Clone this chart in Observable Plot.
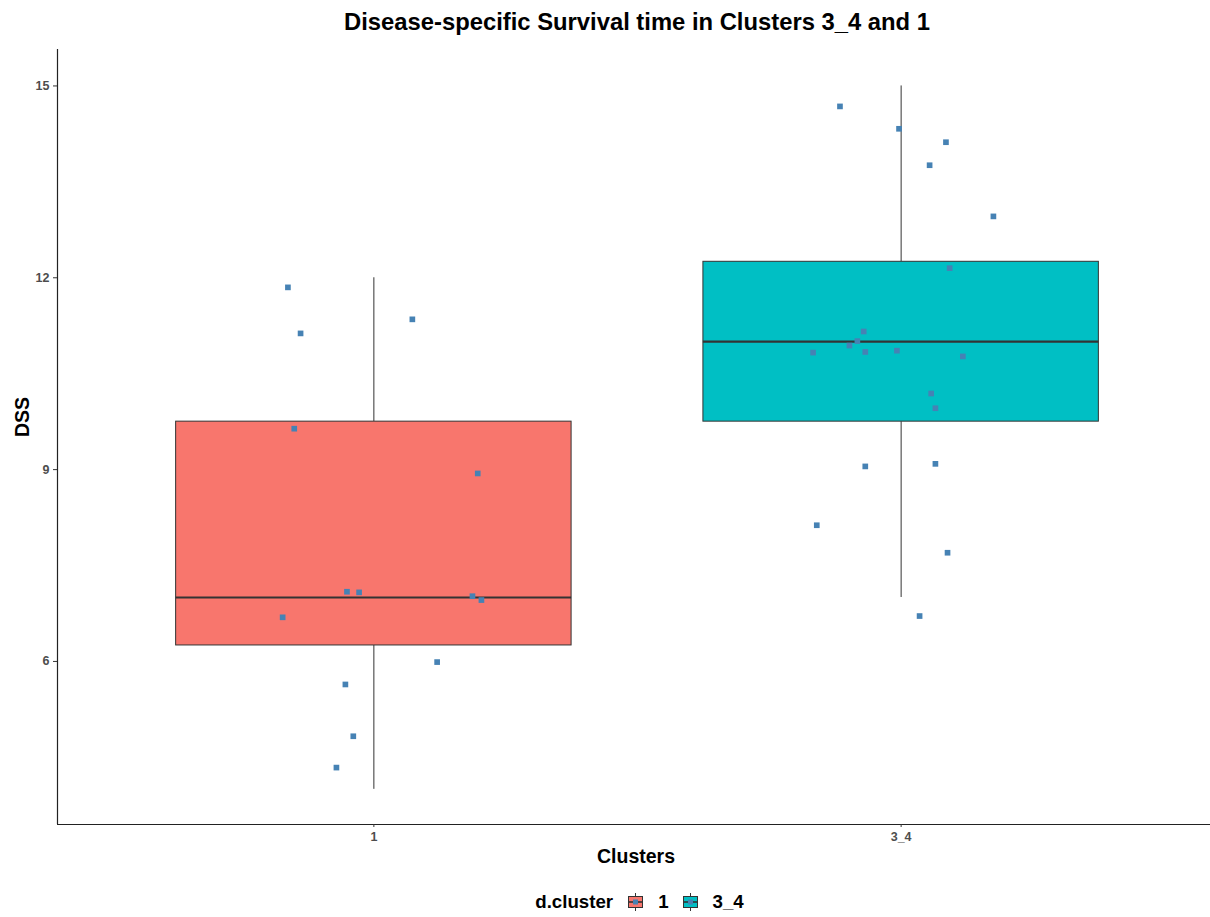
<!DOCTYPE html>
<html><head><meta charset="utf-8">
<script src="https://cdn.jsdelivr.net/npm/d3@7"></script>
<script src="https://cdn.jsdelivr.net/npm/@observablehq/plot@0.6"></script>
<style>
html,body{margin:0;padding:0;background:#fff;}
body{width:1210px;height:917px;overflow:hidden;font-family:"Liberation Sans",Arial,sans-serif;}
#title{height:40px;box-sizing:border-box;padding-left:57px;width:1217px;text-align:center;font-weight:bold;font-size:23.8px;line-height:24px;padding-top:10px;color:#000;white-space:nowrap;}
#chart{height:840px;}
#legend{height:37px;width:1217px;padding-left:62px;padding-top:6px;box-sizing:border-box;display:flex;justify-content:center;align-items:center;font-weight:bold;font-size:18.7px;color:#000;}
#legend .lt{margin-right:15px;}
#legend .lab{margin-left:15px;margin-right:14px;}
#legend .lab:last-child{margin-right:0;}
#legend svg{display:block;}
</style></head><body>
<div id="title">Disease-specific Survival time in Clusters 3_4 and 1</div>
<div id="chart"></div>
<div id="legend"></div>
<script>
// Categories and box statistics
const categories = ["1", "3_4"];
const fills = ["#F8766D", "#00BFC4"];
const q1 = [6.25, 9.75];
const medians = [7.0, 11.0];
const q3 = [9.75, 12.25];
const whiskerLow = [4.0, 7.0];
const whiskerHigh = [12.0, 15.0];
const yTicks = [6, 9, 12, 15];

// Jittered points (x offset from category centre, jittered value)
const cluster1Offsets = [-0.163, -0.139, 0.073, -0.151, 0.197, -0.051, -0.028, 0.187, 0.204, -0.173, 0.120, -0.054, -0.039, -0.071];
const cluster1Values  = [11.85, 11.13, 11.35, 9.64, 8.94, 7.09, 7.08, 7.02, 6.96, 6.69, 5.99, 5.64, 4.83, 4.34];
const cluster34Offsets = [-0.116, -0.004, 0.085, 0.054, 0.175, 0.092, -0.071, -0.083, -0.098, -0.167, -0.068, -0.008, 0.117, 0.057, 0.065, -0.068, 0.065, -0.160, 0.088, 0.035];
const cluster34Values  = [14.68, 14.33, 14.12, 13.76, 12.96, 12.15, 11.16, 11.01, 10.94, 10.83, 10.84, 10.86, 10.77, 10.19, 9.96, 9.05, 9.09, 8.13, 7.70, 6.71];

const boxes = categories.map((c, i) => ({
  cat: c, pos: i + 1, q1: q1[i], med: medians[i], q3: q3[i], lo: whiskerLow[i], hi: whiskerHigh[i], fill: fills[i]
}));
const points = [
  ...cluster1Offsets.map((o, j) => ({x: 1 + o, y: cluster1Values[j]})),
  ...cluster34Offsets.map((o, j) => ({x: 2 + o, y: cluster34Values[j]}))
];
const half = 0.375;
const yMin = 3.45, yMax = 15.57;
const xMin = 0.4, xMax = 2.6;

const plot = Plot.plot({
  width: 1210,
  height: 840,
  marginTop: 9,
  marginBottom: 56,
  marginLeft: 57,
  marginRight: 0,
  style: {fontFamily: '"Liberation Sans", Arial, sans-serif', background: "#fff", overflow: "visible"},
  x: {domain: [xMin, xMax], range: [57, 1217]},
  y: {domain: [yMin, yMax]},
  marks: [
    Plot.ruleX(boxes, {x: "pos", y1: "q3", y2: "hi", stroke: "#333", strokeWidth: 1}),
    Plot.ruleX(boxes, {x: "pos", y1: "lo", y2: "q1", stroke: "#333", strokeWidth: 1}),
    Plot.rect(boxes, {x1: d => d.pos - half, x2: d => d.pos + half, y1: "q1", y2: "q3", fill: "fill", stroke: "#333", strokeWidth: 1}),
    Plot.ruleY(boxes, {y: "med", x1: d => d.pos - half, x2: d => d.pos + half, stroke: "#333", strokeWidth: 2.2}),
    Plot.dot(points, {x: "x", y: "y", symbol: "square", r: 3.2, fill: "#4682B4", stroke: "none"}),
    Plot.ruleY([yMin], {stroke: "#222", strokeWidth: 1.2}),
    Plot.ruleX([xMin], {stroke: "#222", strokeWidth: 1.2}),
    Plot.axisX({ticks: [1, 2], tickFormat: v => categories[v - 1], tickSize: 3, tickPadding: 5, fontSize: 12.5, fontWeight: "bold", fill: "#4D4D4D", stroke: "#333", label: null}),
    Plot.axisY({ticks: yTicks, tickSize: 4, tickPadding: 4, fontSize: 12.5, fontWeight: "bold", fill: "#4D4D4D", stroke: "#333", label: null}),
    Plot.text(["Clusters"], {frameAnchor: "bottom", dx: 2, dy: 32, text: d => d, fontSize: 19.5, fontWeight: "bold", fill: "#000", lineAnchor: "middle"}),
    Plot.text(["DSS"], {frameAnchor: "left", dx: -35, text: d => d, rotate: -90, fontSize: 19.5, fontWeight: "bold", fill: "#000", lineAnchor: "middle"})
  ]
});
document.getElementById("chart").appendChild(plot);

// Legend
const legend = d3.select("#legend");
legend.append("span").attr("class", "lt").text("d.cluster");
categories.forEach((c, i) => {
  const s = legend.append("svg").attr("width", 15).attr("height", 18);
  s.append("line").attr("x1", 7.5).attr("x2", 7.5).attr("y1", 0).attr("y2", 18).attr("stroke", "#333").attr("stroke-width", 1);
  s.append("rect").attr("x", 0.5).attr("y", 3.5).attr("width", 14).attr("height", 11).attr("fill", fills[i]).attr("stroke", "#333").attr("stroke-width", 1);
  s.append("line").attr("x1", 0.5).attr("x2", 14.5).attr("y1", 9).attr("y2", 9).attr("stroke", "#333").attr("stroke-width", 1.6);
  s.append("rect").attr("x", 5).attr("y", 6.5).attr("width", 5).attr("height", 5).attr("fill", "#4682B4");
  legend.append("span").attr("class", "lab").text(c);
});
</script>
</body></html>
